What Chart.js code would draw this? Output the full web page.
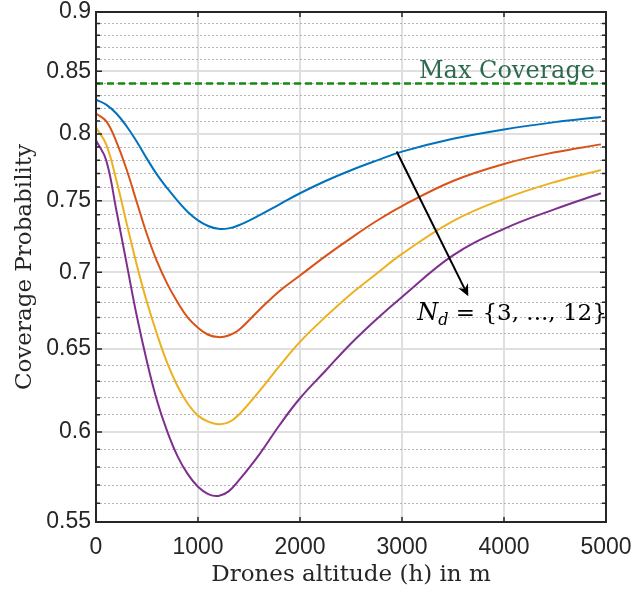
<!DOCTYPE html>
<html>
<head>
<meta charset="utf-8">
<script src="https://cdn.jsdelivr.net/npm/chart.js@4"></script>
<style>
    body { margin: 0; background: #fff; }
    #wrap { width: 633px; height: 589px; }
</style>
</head>
<body>
<div id="wrap"><canvas id="myChart"></canvas></div>
<script>
// ドローンの高度 (m)
const altitudes = [0, 100, 200, 300, 400, 500, 600, 700, 800, 900, 1000, 1100, 1200, 1300, 1400,
    1600, 1800, 2000, 2250, 2500, 2750, 3000, 3500, 4000, 4500, 4950];

// カバレッジ確率（ドローン台数ごと）
const coverageA = [0.827, 0.823, 0.816, 0.806, 0.794, 0.781, 0.769, 0.759, 0.750, 0.742, 0.736, 0.732, 0.730,
    0.7303, 0.7325, 0.7395, 0.7475, 0.7555, 0.7645, 0.7725, 0.7797, 0.7865, 0.7963, 0.8035, 0.8092, 0.8133];
const coverageB = [0.816, 0.810, 0.794, 0.773, 0.749, 0.726, 0.707, 0.692, 0.680, 0.670, 0.6635, 0.659, 0.6575,
    0.6585, 0.662, 0.675, 0.6875, 0.6978, 0.711, 0.7235, 0.7355, 0.7462, 0.7645, 0.7772, 0.786, 0.792];
const coverageC = [0.805, 0.792, 0.765, 0.734, 0.705, 0.680, 0.659, 0.641, 0.627, 0.6165, 0.6095, 0.606, 0.6045,
    0.6055, 0.610, 0.624, 0.6395, 0.6545, 0.6705, 0.6855, 0.699, 0.7125, 0.7355, 0.7515, 0.7638, 0.7727];
const coverageD = [0.795, 0.780, 0.743, 0.706, 0.671, 0.642, 0.618, 0.600, 0.586, 0.576, 0.569, 0.565, 0.564,
    0.5665, 0.5725, 0.587, 0.604, 0.6198, 0.6365, 0.6535, 0.669, 0.6835, 0.7115, 0.730, 0.744, 0.7555];

// 最大カバレッジ
const maxCoverage = 0.84;

// 目盛り
const xTicks = [0, 1000, 2000, 3000, 4000, 5000];
const yMajorTicks = [0.55, 0.6, 0.65, 0.7, 0.75, 0.8, 0.85, 0.9];
const yMinorTicks = [0.56, 0.57, 0.58, 0.59, 0.61, 0.62, 0.63, 0.64, 0.66, 0.67, 0.68, 0.69,
    0.71, 0.72, 0.73, 0.74, 0.76, 0.77, 0.78, 0.79, 0.81, 0.82, 0.83, 0.84, 0.86, 0.87, 0.88, 0.89];

// 注釈の位置（データ座標）
const arrowFrom = [2948, 0.7866];
const arrowTo = [3650, 0.684];
const maxLabelAt = [4892, 0.8447];
const ndLabelAt = [3150, 0.6685];

const toPoints = (ys) => ys.map((y, i) => ({ x: altitudes[i], y }));

function lineSet(ys, color) {
    return {
        data: toPoints(ys),
        borderColor: color,
        borderWidth: 2,
        pointRadius: 0,
        tension: 0.4,
        fill: false,
    };
}

// 注釈（テキストと矢印）
const notes = {
    id: "notes",
    afterDatasetsDraw(chart) {
        const { ctx, scales: { x, y } } = chart;
        ctx.save();
        // Max Coverage
        ctx.font = '24px "DejaVu Serif"';
        ctx.fillStyle = "#2e6b4e";
        ctx.textAlign = "right";
        ctx.textBaseline = "alphabetic";
        ctx.fillText("Max Coverage", x.getPixelForValue(maxLabelAt[0]), y.getPixelForValue(maxLabelAt[1]));

        // 矢印
        const x1 = x.getPixelForValue(arrowFrom[0]), y1 = y.getPixelForValue(arrowFrom[1]);
        const x2 = x.getPixelForValue(arrowTo[0]), y2 = y.getPixelForValue(arrowTo[1]);
        const ang = Math.atan2(y2 - y1, x2 - x1);
        ctx.strokeStyle = "#000";
        ctx.fillStyle = "#000";
        ctx.lineWidth = 2;
        ctx.beginPath();
        ctx.moveTo(x1, y1);
        ctx.lineTo(x2 - 6 * Math.cos(ang), y2 - 6 * Math.sin(ang));
        ctx.stroke();
        const len = 12, half = 5.5;
        const bx = x2 - len * Math.cos(ang), by = y2 - len * Math.sin(ang);
        const nx = -Math.sin(ang), ny = Math.cos(ang);
        ctx.beginPath();
        ctx.moveTo(x2, y2);
        ctx.lineTo(bx + nx * half, by + ny * half);
        ctx.lineTo(x2 - 8 * Math.cos(ang), y2 - 8 * Math.sin(ang));
        ctx.lineTo(bx - nx * half, by - ny * half);
        ctx.closePath();
        ctx.fill();

        // N_d = {3, ..., 12}
        let px = x.getPixelForValue(ndLabelAt[0]);
        const py = y.getPixelForValue(ndLabelAt[1]);
        ctx.textAlign = "left";
        ctx.font = 'italic 24px "DejaVu Serif"';
        ctx.fillText("N", px, py);
        px += ctx.measureText("N").width;
        ctx.font = 'italic 16px "DejaVu Serif"';
        ctx.fillText("d", px, py + 5);
        px += ctx.measureText("d").width;
        ctx.font = '23px "DejaVu Serif"';
        ctx.fillText(" = {3, ..., 12}", px, py);
        ctx.restore();
    },
};

// 枠と内向きの目盛り
const frame = {
    id: "frame",
    afterDatasetsDraw(chart) {
        const { ctx, chartArea: a, scales: { x, y } } = chart;
        ctx.save();
        ctx.strokeStyle = "#262626";
        ctx.lineWidth = 1.5;
        ctx.beginPath();
        xTicks.forEach((v) => {
            const px = x.getPixelForValue(v);
            ctx.moveTo(px, a.bottom); ctx.lineTo(px, a.bottom - 5);
            ctx.moveTo(px, a.top); ctx.lineTo(px, a.top + 5);
        });
        yMajorTicks.forEach((v) => {
            const py = y.getPixelForValue(v);
            ctx.moveTo(a.left, py); ctx.lineTo(a.left + 6, py);
            ctx.moveTo(a.right, py); ctx.lineTo(a.right - 6, py);
        });
        yMinorTicks.forEach((v) => {
            const py = y.getPixelForValue(v);
            ctx.moveTo(a.left, py); ctx.lineTo(a.left + 4, py);
            ctx.moveTo(a.right, py); ctx.lineTo(a.right - 4, py);
        });
        ctx.stroke();
        ctx.lineWidth = 2;
        ctx.strokeRect(a.left, a.top, a.width, a.height);
        ctx.restore();
    },
};

function drawChart() {
    const data = {
        datasets: [
            {
                data: [{ x: 0, y: maxCoverage }, { x: 5000, y: maxCoverage }],
                borderColor: "#138a13",
                borderWidth: 2.5,
                borderDash: [7, 4],
                pointRadius: 0,
            },
            lineSet(coverageA, "#0072BD"),
            lineSet(coverageB, "#D95319"),
            lineSet(coverageC, "#EDB120"),
            lineSet(coverageD, "#7E2F8E"),
        ],
    };

    const tickFont = { family: '"Liberation Sans", Arial, sans-serif', size: 23, lineHeight: 1 };
    const titleFont = { family: '"DejaVu Serif", serif', size: 23 };

    const ctx = document.getElementById("myChart");
    new Chart(ctx, {
        type: "line",
        data,
        options: {
            responsive: true,
            maintainAspectRatio: false,
            animation: false,
            layout: { padding: { left: 0, right: 27, top: 12, bottom: 0 } },
            plugins: { legend: { display: false }, tooltip: { enabled: false } },
            scales: {
                x: {
                    type: "linear",
                    min: 0,
                    max: 5000,
                    afterBuildTicks: (s) => { s.ticks = xTicks.map((v) => ({ value: v })); },
                    afterFit: (s) => { s.height = 67; s.paddingLeft = 0; s.paddingRight = 0; },
                    ticks: { font: tickFont, color: "#262626", padding: 14, maxRotation: 0, callback: (v) => String(v) },
                    grid: {
                        drawTicks: false,
                        color: (c) => (c.tick && (c.tick.value === 0 || c.tick.value === 5000) ? "rgba(0,0,0,0)" : "#dfdfdf"),
                        lineWidth: 2,
                    },
                    border: { display: false },
                    title: { display: true, text: "Drones altitude (h) in m", font: titleFont, color: "#262626", padding: { top: 4, bottom: 0 } },
                },
                y: {
                    type: "logarithmic",
                    min: 0.55,
                    max: 0.9,
                    afterBuildTicks: (s) => { s.ticks = yMajorTicks.map((v) => ({ value: v })); },
                    afterFit: (s) => { s.width = 96; s.paddingTop = 0; s.paddingBottom = 0; },
                    ticks: {
                        font: tickFont,
                        color: "#262626",
                        padding: 5,
                        callback: (v) => String(Number(v.toFixed(2))),
                    },
                    grid: {
                        drawTicks: false,
                        color: (c) => (c.tick && (c.tick.value === 0.55 || c.tick.value === 0.9) ? "rgba(0,0,0,0)" : "#dfdfdf"),
                        lineWidth: 2,
                    },
                    border: { display: false },
                    title: { display: true, text: "Coverage Probability", font: titleFont, color: "#262626", padding: { top: 11, bottom: 0 } },
                },
                yMinor: {
                    type: "logarithmic",
                    position: "left",
                    min: 0.55,
                    max: 0.9,
                    afterBuildTicks: (s) => { s.ticks = yMinorTicks.map((v) => ({ value: v })); },
                    afterFit: (s) => { s.width = 0; s.paddingTop = 0; s.paddingBottom = 0; },
                    ticks: { display: false },
                    grid: { drawTicks: false, color: "#b4b4b4", lineWidth: 1 },
                    border: { display: false, dash: [2, 2] },
                },
            },
        },
        plugins: [notes, frame],
    });
}

window.onload = function () {
    drawChart();
};
</script>
</body>
</html>
